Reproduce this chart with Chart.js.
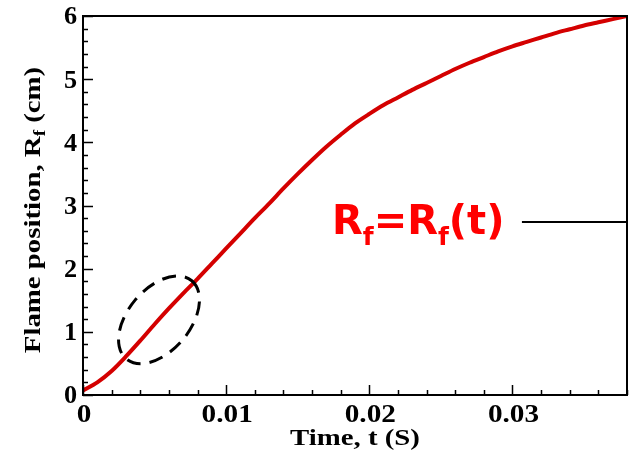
<!DOCTYPE html>
<html>
<head>
<meta charset="utf-8">
<script src="https://cdn.jsdelivr.net/npm/chart.js@4/dist/chart.umd.min.js"></script>
<style>
  html, body { margin: 0; padding: 0; background: #fff; }
  #chart { display: block; }
</style>
</head>
<body>
<canvas id="chart" width="630" height="454"></canvas>
<script>
// Flame position R_f versus time
const TIME_S = [
  0, 0.001, 0.002, 0.003, 0.004, 0.005, 0.006, 0.007, 0.008, 0.009,
  0.010, 0.011, 0.012, 0.013, 0.014, 0.015, 0.016, 0.017, 0.018, 0.019,
  0.020, 0.021, 0.022, 0.023, 0.024, 0.025, 0.026, 0.027, 0.028, 0.029,
  0.030, 0.031, 0.032, 0.033, 0.034, 0.035, 0.036, 0.037, 0.038
];
const RADIUS_CM = [
  0.07, 0.20, 0.38, 0.61, 0.86, 1.12, 1.37, 1.61, 1.84, 2.08,
  2.32, 2.56, 2.80, 3.03, 3.27, 3.50, 3.72, 3.93, 4.12, 4.30,
  4.45, 4.59, 4.71, 4.83, 4.94, 5.05, 5.16, 5.26, 5.35, 5.44,
  5.52, 5.59, 5.66, 5.73, 5.79, 5.85, 5.90, 5.95, 6.00
];

const X_MIN = 0, X_MAX = 0.038;
const Y_MIN = 0, Y_MAX = 6;
const X_TICKS  = [0, 0.01, 0.02, 0.03];
const X_LABELS = ["0", "0.01", "0.02", "0.03"];
const Y_TICKS  = [0, 1, 2, 3, 4, 5, 6];
const Y_LABELS = ["0", "1", "2", "3", "4", "5", "6"];
const X_MINOR_STEP = 0.002;
const Y_MINOR_STEP = 0.2;

// dashed ellipse + label line (data coords)
const ELLIPSE_CENTER = { t: 0.00531, r: 1.19 };
const LABEL_POS  = { t: 0.01739, r: 2.55 };
const LEADER_Y   = 2.74;
const LEADER_T0  = 0.03066;

const SERIF = "'Liberation Serif', 'Times New Roman', serif";
const SANS  = "'DejaVu Sans', Verdana, sans-serif";

function range(a, b, step) {
  const out = [];
  for (let i = 0; a + i * step <= b + 1e-9; i++) out.push(+(a + i * step).toFixed(6));
  return out;
}

// text drawn wider/narrower along its own direction
function stretchedText(ctx, text, x, y, sx, align) {
  ctx.save();
  ctx.translate(x, y);
  ctx.scale(sx, 1);
  ctx.textAlign = align || "left";
  ctx.fillText(text, 0, 0);
  ctx.restore();
}

const axesPlugin = {
  id: "tecplotAxes",
  afterDatasetsDraw(chart) {
    const { ctx, chartArea: a, scales: { x, y } } = chart;
    ctx.save();

    // ── dashed ellipse ─────────────────────────────
    const cx = x.getPixelForValue(ELLIPSE_CENTER.t);
    const cy = y.getPixelForValue(ELLIPSE_CENTER.r);
    ctx.strokeStyle = "#000";
    ctx.lineWidth = 3;
    ctx.setLineDash([14, 9]);
    ctx.beginPath();
    ctx.ellipse(cx, cy, 51, 31, -50 * Math.PI / 180, 0, Math.PI * 2);
    ctx.stroke();
    ctx.setLineDash([]);

    // ── leader line ────────────────────────────────
    const ly = y.getPixelForValue(LEADER_Y);
    ctx.lineWidth = 2;
    ctx.beginPath();
    ctx.moveTo(x.getPixelForValue(LEADER_T0), ly);
    ctx.lineTo(a.right, ly);
    ctx.stroke();

    // ── R_f = R_f(t) label ─────────────────────────
    let px = x.getPixelForValue(LABEL_POS.t);
    const py = y.getPixelForValue(LABEL_POS.r);
    const big = "bold 40px " + SANS, small = "bold 25px " + SANS;
    ctx.fillStyle = "#ff0000";
    ctx.textBaseline = "alphabetic";
    ctx.textAlign = "left";
    const parts = [["R", big, 0], ["f", small, 11], ["=", big, 0], ["R", big, 0], ["f", small, 11], ["(t)", big, 0]];
    for (const [txt, font, dy] of parts) {
      ctx.font = font;
      ctx.fillText(txt, px, py + dy);
      px += ctx.measureText(txt).width;
    }

    ctx.restore();
  },
  afterDraw(chart) {
    const { ctx, chartArea: a, scales: { x, y } } = chart;
    ctx.save();
    ctx.strokeStyle = "#000";
    ctx.fillStyle = "#000";

    // frame
    ctx.lineWidth = 2;
    ctx.strokeRect(a.left, a.top, a.right - a.left, a.bottom - a.top);

    // inward ticks
    ctx.lineWidth = 1.5;
    ctx.beginPath();
    for (const v of range(X_MIN, X_MAX, X_MINOR_STEP)) {
      const px = Math.round(x.getPixelForValue(v)) + 0.5;
      const major = X_TICKS.some((t) => Math.abs(t - v) < 1e-6);
      ctx.moveTo(px, a.bottom);
      ctx.lineTo(px, a.bottom - (major ? 10 : 5));
    }
    for (const v of range(Y_MIN, Y_MAX, Y_MINOR_STEP)) {
      const py = Math.round(y.getPixelForValue(v)) + 0.5;
      const major = Y_TICKS.some((t) => Math.abs(t - v) < 1e-6);
      ctx.moveTo(a.left, py);
      ctx.lineTo(a.left + (major ? 10 : 5), py);
    }
    ctx.stroke();

    // tick labels
    ctx.font = "bold 25px " + SERIF;
    ctx.textBaseline = "alphabetic";
    X_TICKS.forEach((v, i) => {
      stretchedText(ctx, X_LABELS[i], x.getPixelForValue(v) + 1, a.bottom + 27, 1.17, "center");
    });
    ctx.textBaseline = "middle";
    Y_TICKS.forEach((v, i) => {
      stretchedText(ctx, Y_LABELS[i], a.left - 6, y.getPixelForValue(v) + 2, 1.05, "right");
    });

    // x axis title
    ctx.font = "bold 24px " + SERIF;
    ctx.textBaseline = "alphabetic";
    stretchedText(ctx, "Time, t (S)", (a.left + a.right) / 2, 445, 1.2, "center");

    // y axis title, with subscript f
    ctx.save();
    ctx.translate(40, 210);
    ctx.rotate(-Math.PI / 2);
    ctx.scale(1.2, 1);
    const main = "bold 24px " + SERIF, sub = "bold 16px " + SERIF;
    const yParts = [["Flame position, R", main, 0], ["f", sub, 5], [" (cm)", main, 0]];
    let w = 0;
    for (const [txt, font] of yParts) { ctx.font = font; w += ctx.measureText(txt).width; }
    let ox = -w / 2;
    ctx.textAlign = "left";
    for (const [txt, font, dy] of yParts) {
      ctx.font = font;
      ctx.fillText(txt, ox, dy);
      ox += ctx.measureText(txt).width;
    }
    ctx.restore();

    ctx.restore();
  },
};

new Chart(document.getElementById("chart"), {
  type: "line",
  data: {
    datasets: [{
      data: TIME_S.map((t, i) => ({ x: t, y: RADIUS_CM[i] })),
      borderColor: "#d40000",
      borderWidth: 4,
      pointRadius: 0,
      tension: 0.3,
      fill: false,
    }],
  },
  options: {
    responsive: false,
    animation: false,
    layout: { padding: { left: 83, right: 3, top: 16, bottom: 59 } },
    plugins: { legend: { display: false }, tooltip: { enabled: false } },
    scales: {
      x: { type: "linear", min: X_MIN, max: X_MAX, display: false },
      y: { type: "linear", min: Y_MIN, max: Y_MAX, display: false },
    },
  },
  plugins: [axesPlugin],
});
</script>
</body>
</html>
